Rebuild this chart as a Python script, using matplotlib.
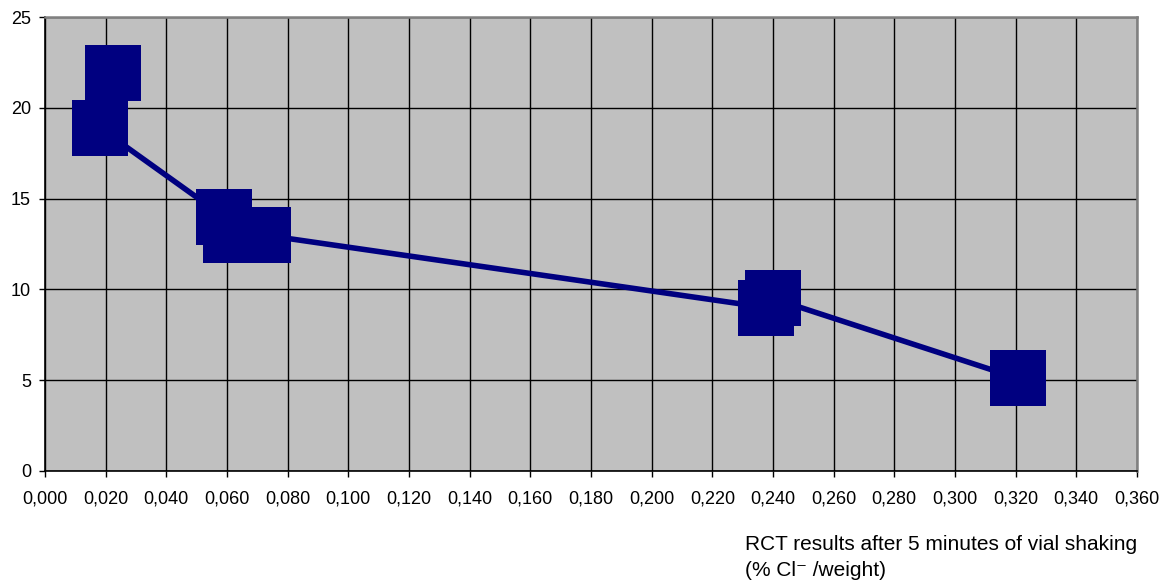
import matplotlib
matplotlib.use("Agg")
import matplotlib.pyplot as plt
from matplotlib.ticker import FuncFormatter

plt.rcParams['font.family'] = ['Liberation Sans', 'DejaVu Sans']

# RCT chloride vs. y value, in the order the line joins them
rct = [0.0223, 0.0180, 0.0590, 0.0612, 0.0720, 0.2378, 0.2400, 0.3208]
vals = [21.9, 18.9, 14.0, 13.0, 13.0, 9.0, 9.5, 5.1]

x_ticks = [i * 0.02 for i in range(19)]
y_ticks = [0, 5, 10, 15, 20, 25]

fig = plt.figure(figsize=(11.66, 5.85), dpi=100)
ax = fig.add_axes([0.0386, 0.1949, 0.9365, 0.776])
ax.set_facecolor('#C0C0C0')

ax.plot(rct, vals, color='#000080', lw=4.0, marker='s', ms=40,
        markeredgewidth=0, solid_joinstyle='miter', zorder=3)

ax.set_xlim(0, 0.36)
ax.set_ylim(0, 25)
ax.set_xticks(x_ticks)
ax.set_yticks(y_ticks)
ax.xaxis.set_major_formatter(FuncFormatter(lambda v, p: f"{v:.3f}".replace('.', ',')))
ax.grid(True, color='black', lw=1.0, zorder=1)
ax.set_axisbelow(True)

ax.tick_params(direction='out', length=4, width=1, labelsize=13)
ax.tick_params(axis='x', pad=10)
ax.tick_params(axis='y', pad=6)
for s in ['top', 'right']:
    ax.spines[s].set_color('#808080')
    ax.spines[s].set_linewidth(1.8)
for s in ['left', 'bottom']:
    ax.spines[s].set_color('black')
    ax.spines[s].set_linewidth(1.2)

fig.text(745 / 1166, 1 - 545 / 585, "RCT results after 5 minutes of vial shaking",
         fontsize=15, ha='left', va='center')
fig.text(745 / 1166, 1 - 571 / 585, "(% Cl\u207b /weight)",
         fontsize=15, ha='left', va='center')

fig.savefig('out.png', dpi=100)
